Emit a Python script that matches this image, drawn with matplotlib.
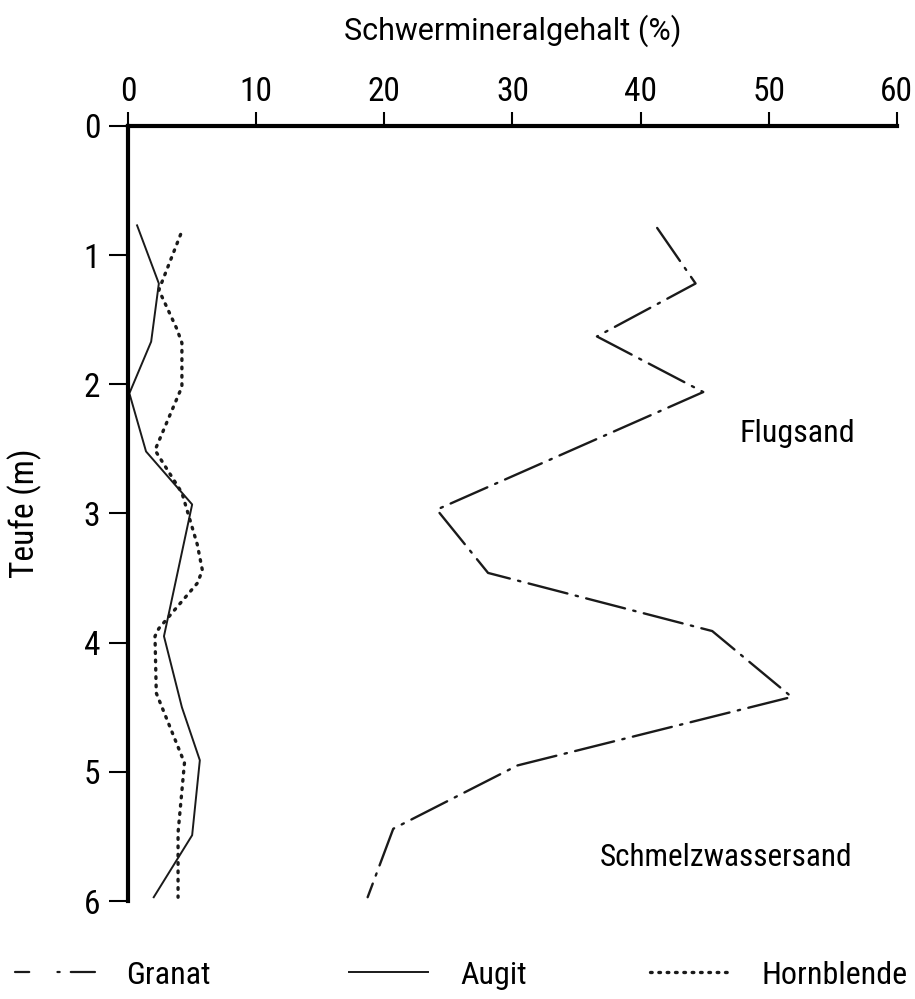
import matplotlib
matplotlib.use("Agg")
import matplotlib.pyplot as plt
from matplotlib import font_manager
from matplotlib.lines import Line2D

# schmale Schrift wenn vorhanden, sonst Liberation Sans
installed = {f.name for f in font_manager.fontManager.ttflist}
family = 'Liberation Sans'
for name in ['Roboto Condensed', 'Liberation Sans Narrow', 'Nimbus Sans Narrow', 'Open Sans Condensed']:
    if name in installed:
        family = name
        break
plt.rcParams['font.family'] = [family, 'DejaVu Sans']
title_family = ['Roboto', 'DejaVu Sans'] if family == 'Roboto Condensed' else [family, 'DejaVu Sans']

# Werte (Teufe in m, Gehalt in %)
granat_tiefe = [0.79, 1.22, 1.63, 2.06, 2.97, 3.46, 3.91, 4.42, 4.95, 5.44, 5.97]
granat_wert = [41.3, 44.3, 36.6, 44.9, 24.1, 28.1, 45.6, 51.8, 30.4, 20.7, 18.7]

augit_tiefe = [0.77, 1.22, 1.67, 2.07, 2.52, 2.93, 3.95, 4.50, 4.91, 5.49, 5.97]
augit_wert = [0.7, 2.4, 1.8, 0.1, 1.4, 5.0, 2.8, 4.2, 5.6, 5.0, 2.0]

hornblende_tiefe = [0.84, 1.27, 1.57, 1.68, 2.02, 2.51, 2.84, 3.24, 3.44, 3.54,
                    3.89, 3.95, 4.39, 4.93, 5.47, 5.97]
hornblende_wert = [4.1, 2.4, 3.8, 4.2, 4.2, 2.1, 4.2, 5.4, 5.8, 5.4,
                   2.4, 2.1, 2.2, 4.4, 3.9, 3.9]

x_ticks = [0, 10, 20, 30, 40, 50, 60]
y_ticks = [0, 1, 2, 3, 4, 5, 6]

fig = plt.figure(figsize=(9.15, 9.99), dpi=100)
ax = fig.add_axes([0.14, 0.098, 0.84, 0.776])

ink = '#1a1a1a'
l_gr, = ax.plot(granat_wert, granat_tiefe, color=ink, lw=1.7,
                linestyle=(0, (17, 3.6, 1.0, 3.6)), dash_capstyle='round', label='Granat')
l_au, = ax.plot(augit_wert, augit_tiefe, color=ink, lw=1.4, label='Augit')
l_hb, = ax.plot(hornblende_wert, hornblende_tiefe, color=ink, lw=2.4,
                linestyle=(0, (0.5, 2.0)), dash_capstyle='round', label='Hornblende')

ax.set_xlim(0, 60)
ax.set_ylim(6, 0)
ax.set_xticks(x_ticks)
ax.set_yticks(y_ticks)
ax.xaxis.tick_top()
ax.xaxis.set_label_position('top')
ax.tick_params(axis='x', direction='out', length=10, width=1.5, labelsize=24, pad=3)
ax.tick_params(axis='y', direction='out', length=14, width=1.5, labelsize=24, pad=6)

for s in ['right', 'bottom']:
    ax.spines[s].set_visible(False)
ax.spines['top'].set_linewidth(3)
ax.spines['left'].set_linewidth(3)

ax.set_xlabel('Schwermineralgehalt (%)', fontsize=22, family=title_family, labelpad=26)
ax.set_ylabel('Teufe (m)', fontsize=24, labelpad=30)

ax.text(47.7, 2.38, 'Flugsand', fontsize=23, va='center')
ax.text(36.8, 5.66, 'Schmelzwassersand', fontsize=22.5, va='center')

# Legende: drei Einträge einzeln gesetzt, Granat mit kürzerem Muster wie im Original
granat_handle = Line2D([], [], color=ink, lw=1.6,
                       linestyle=(0, (6.4, 12.7, 1.0, 5, 11, 20)), dash_capstyle='round')
for handle, label, x0 in [(granat_handle, 'Granat', 0.016),
                          (l_au, 'Augit', 0.381),
                          (l_hb, 'Hornblende', 0.710)]:
    fig.legend(handles=[handle], labels=[label], loc='center left',
               bbox_to_anchor=(x0, 0.024), frameon=False, fontsize=23,
               handlelength=2.5, handletextpad=1.0, borderpad=0, borderaxespad=0)

fig.savefig('out.png', dpi=100, facecolor='white')
